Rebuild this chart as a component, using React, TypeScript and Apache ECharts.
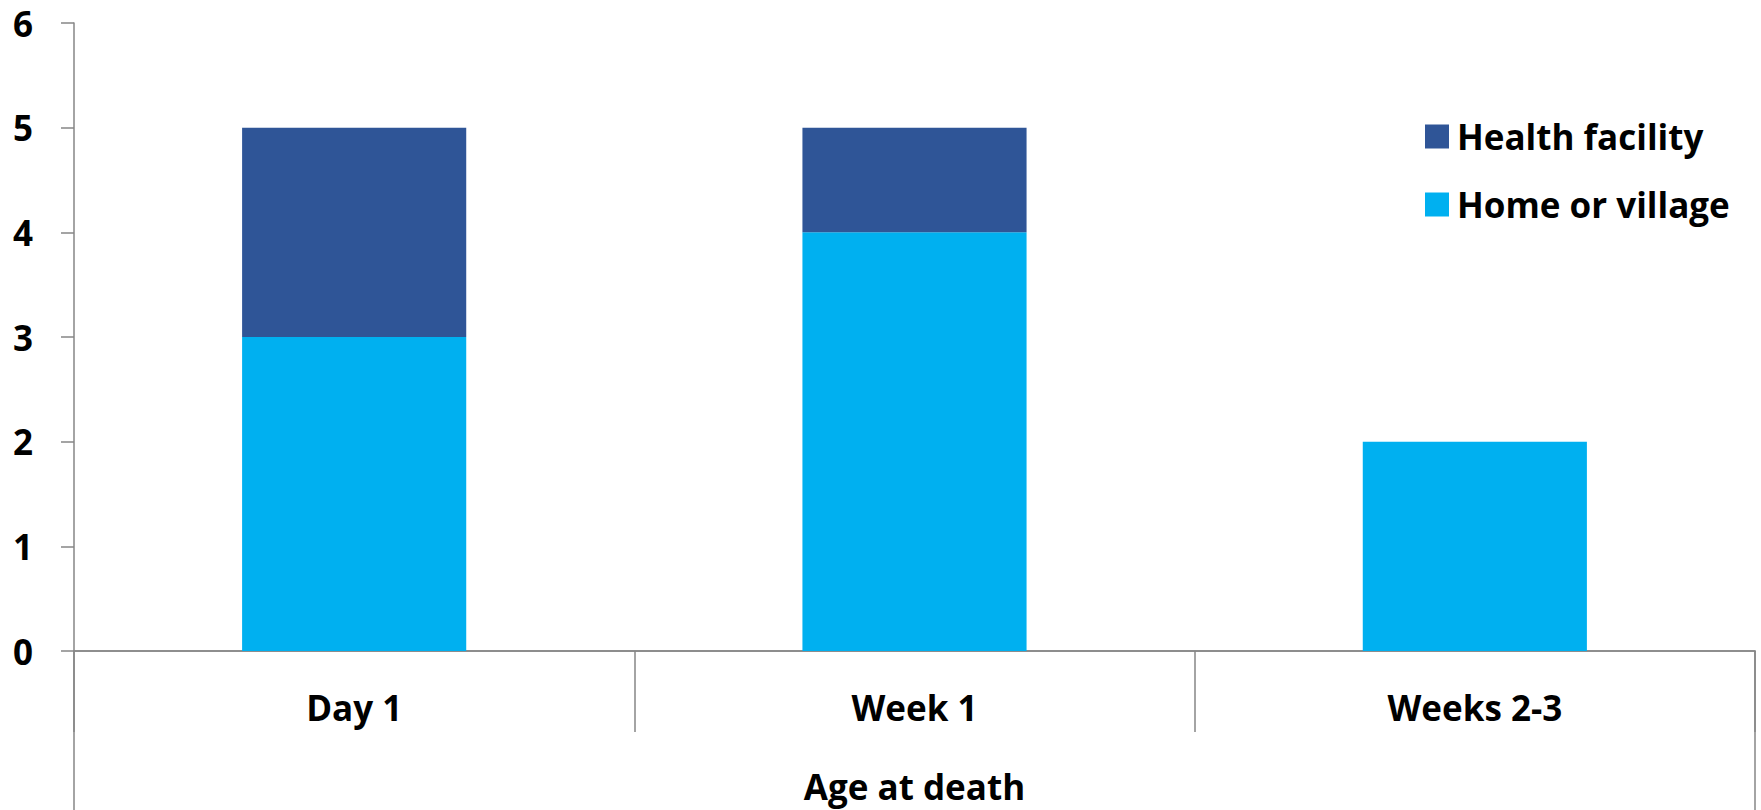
import React, { useEffect, useRef } from "react";
import * as echarts from "echarts";

const categories = ["Day 1", "Week 1", "Weeks 2-3"];
const outerCategory = ["Age at death"];
const homeOrVillage = [3, 4, 2];
const healthFacility = [2, 1, 0];
const seriesNames = ["Health facility", "Home or village"];

const FONT = "'Open Sans', 'Noto Sans', sans-serif";
const AXIS_COLOR = "#868686";

export default function App() {
  const ref = useRef<HTMLDivElement>(null);
  useEffect(() => {
    if (!ref.current) return;
    const chart = echarts.init(ref.current, null, { renderer: "svg" });
    const labelStyle = {
      fontFamily: FONT,
      fontWeight: "bold" as const,
      fontSize: 35,
      color: "#000",
    };
    chart.setOption({
      animation: false,
      backgroundColor: "#fff",
      grid: { left: 74, right: 6, top: 23, bottom: 159, containLabel: false },
      legend: {
        orient: "vertical",
        left: 1420,
        top: 114,
        itemWidth: 24,
        itemHeight: 24,
        itemGap: 33,
        icon: "rect",
        data: seriesNames,
        textStyle: { ...labelStyle, lineHeight: 35, padding: [0, 0, 0, 3] },
      },
      xAxis: [
        {
          type: "category",
          data: categories,
          position: "bottom",
          axisLine: { show: true, lineStyle: { color: AXIS_COLOR, width: 1.5 } },
          axisTick: { show: true, alignWithLabel: false, interval: 0, length: 81, lineStyle: { color: AXIS_COLOR, width: 1.5 } },
          axisLabel: { ...labelStyle, margin: 36, lineHeight: 40, interval: 0 },
          splitLine: { show: false },
        },
        {
          type: "category",
          data: outerCategory,
          position: "bottom",
          axisLine: { show: true, lineStyle: { color: AXIS_COLOR, width: 1.5 } },
          axisTick: { show: true, alignWithLabel: false, interval: 0, length: 159, lineStyle: { color: AXIS_COLOR, width: 1.5 } },
          axisLabel: { ...labelStyle, margin: 115, lineHeight: 40 },
          splitLine: { show: false },
        },
      ],
      yAxis: {
        type: "value",
        min: 0,
        max: 6,
        interval: 1,
        axisLine: { show: true, lineStyle: { color: AXIS_COLOR, width: 1.5 } },
        axisTick: { show: true, length: 13, lineStyle: { color: AXIS_COLOR, width: 1.5 } },
        axisLabel: { ...labelStyle, margin: 41 },
        splitLine: { show: false },
      },
      series: [
        {
          name: "Home or village",
          type: "bar",
          stack: "total",
          xAxisIndex: 0,
          data: homeOrVillage,
          barWidth: "40%",
          itemStyle: { color: "#00B0F0" },
        },
        {
          name: "Health facility",
          type: "bar",
          stack: "total",
          xAxisIndex: 0,
          data: healthFacility,
          barWidth: "40%",
          itemStyle: { color: "#2F5597" },
        },
      ],
    });
    return () => chart.dispose();
  }, []);
  return (
    <div
      ref={ref}
      style={{ position: "absolute", left: 0, top: 0, width: 1761, height: 810 }}
    />
  );
}
